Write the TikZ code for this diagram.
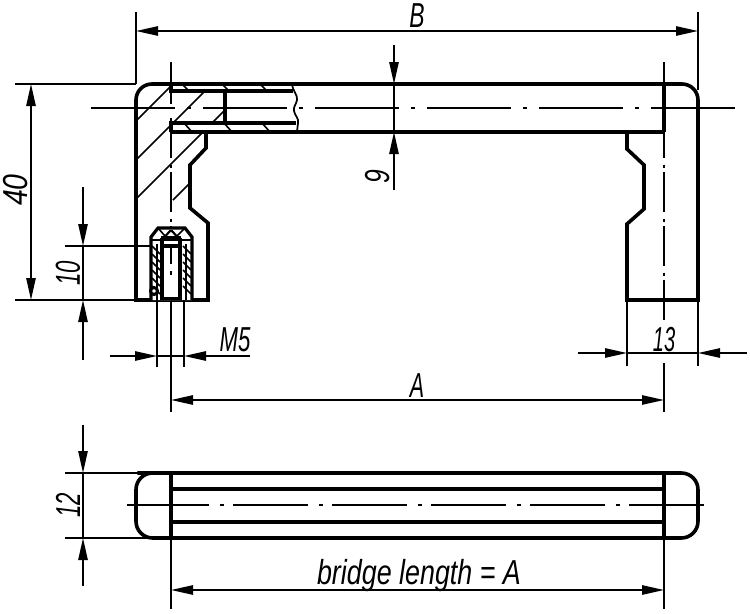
\documentclass[tikz,border=0pt]{standalone}
\usepackage{fontspec}
\setmainfont{Liberation Sans}
\usetikzlibrary{arrows.meta}
\newcommand{\dimtxt}[2]{\fontsize{26}{26}\selectfont\itshape\scalebox{#1}[1]{#2}}
\tikzset{
  contour/.style={line width=2.7pt,line join=miter,line cap=butt},
  midline/.style={line width=2.3pt},
  thinline/.style={line width=1.2pt},
  hatchline/.style={line width=1.2pt},
  dimarrow/.style={line width=1.2pt,-{Triangle[length=16.5pt,width=7pt]}},
  dimboth/.style={line width=1.2pt,{Triangle[length=16.5pt,width=7pt]}-{Triangle[length=16.5pt,width=7pt]}},
  axish/.style={line width=1.4pt,dash pattern=on 63pt off 9pt on 3pt off 9pt},
  axisb/.style={line width=1.4pt,dash pattern=on 56.25pt off 8pt on 3.5pt off 6.5pt},
  axisv/.style={line width=1.2pt,dash pattern=on 30pt off 5pt on 2.5pt off 3pt},
  label/.style={inner sep=0pt,text=black}
}
\begin{document}
\begin{tikzpicture}[x=.75pt,y=-.75pt]
\useasboundingbox (0,0) rectangle (750,614);
\fill[white] (0,0) rectangle (750,614);

% hatching of the section
\begin{scope}
\clip (136,300) -- (136,84) -- (171,84) -- (171,91) -- (225,91) -- (225,123) -- (171,123) -- (171,132) -- (206,132) -- (206,148) -- (190,165) -- (190,208) -- (208,223) -- (208,300) -- cycle;
\foreach \k in {257,296,335,373,412,451,490}
  \draw[hatchline] (\k-200,200) -- (\k-50,50);
\end{scope}
\foreach \x in {182,222,260}{
  \draw[hatchline] (\x,84) -- (\x+7,91);
  \draw[hatchline] (\x+2,123) -- (\x+10,132);
}

% axes
\draw[axish] (91,108) -- (735,108);
\draw[line width=1.4pt] (95,108) -- (118,108);
\draw[axisv] (171,118) -- (171,266);
\draw[thinline] (171,62) -- (171,104);
\draw[thinline] (171,280) -- (171,412);
\draw[thinline] (664,62) -- (664,112);
\draw[axisv] (664,118) -- (664,320);
\draw[thinline] (664,363) -- (664,412);
\draw[axisb] (134,505) -- (706,505);
\draw[line width=1.4pt] (127,505) -- (134,505);

% front view outline
\draw[contour,rounded corners=12pt] (136,300) -- (136,84) -- (698,84) -- (698,300);
\draw[contour] (134.2,300) -- (208,300) -- (208,223) -- (190,208) -- (190,165) -- (206,148) -- (206,132);
\draw[contour] (699.8,300) -- (627,300) -- (627,224) -- (644,209) -- (644,165) -- (627,149) -- (627,132);
\draw[midline] (171,132) -- (664,132);
\draw[contour] (664,84) -- (664,132);
\draw[contour] (171,84) -- (171,91) -- (293,91);
\draw[contour] (171,132) -- (171,123) -- (296,123);
\draw[contour] (225,91) -- (225,123);
\draw[line width=1.3pt] (292,84) .. controls (293,92) and (298,95) .. (297,100) .. controls (296,105) and (293,107) .. (294,111) .. controls (295,116) and (299,118) .. (298,123) -- (297,132);

% threaded insert
\fill[white] (151,300) -- (151,237) -- (158,228) -- (185,228) -- (192,237) -- (192,300) -- cycle;
\foreach \y in {246,254,...,288}{
  \draw[hatchline] (152,\y) -- (160,\y+8);
  \draw[hatchline] (183,\y) -- (191,\y+8);
}
\draw[line width=2.4pt] (151,300) -- (151,237) -- (158,228) -- (185,228) -- (192,237) -- (192,300);
\draw[thinline] (151,240) -- (192,240);
\draw[line width=1.6pt] (161,241) -- (170,231) -- (172,231) -- (181,241);
\draw[thinline] (158,228) -- (165,236);
\draw[thinline] (185,228) -- (177,236);
\draw[midline] (161,238) -- (181,238);
\draw[midline] (161,246) -- (181,246);
\draw[thinline] (157,244) -- (157,300);
\draw[thinline] (186,244) -- (186,300);
\draw[line width=3pt] (162,238) -- (162,300);
\draw[line width=3pt] (180,238) -- (180,300);
\fill[white] (154,290) circle (3.5);
\draw[midline] (154,291) circle (3.5);
\draw[contour] (161,298.5) -- (181,298.5);
\draw[thinline] (171,247) -- (171,264);
\fill (170,271) rectangle (172,275);

% top view
\draw[contour,rounded corners=12.5pt] (154,473) -- (136,473) -- (136,538) -- (698,538) -- (698,473) -- cycle;
\draw[contour] (171,473) -- (171,538);
\draw[contour] (664,473) -- (664,538);
\draw[midline] (171,489) -- (664,489);
\draw[contour] (171,522) -- (664,522);

% extension lines
\draw[thinline] (136,12) -- (136,84);
\draw[thinline] (698,12) -- (698,90);
\draw[thinline] (15,84) -- (136,84);
\draw[thinline] (15,300) -- (136,300);
\draw[thinline] (65,246) -- (152,246);
\draw[thinline] (157,300) -- (157,367);
\draw[thinline] (184,300) -- (184,367);
\draw[thinline] (627,300) -- (627,366);
\draw[thinline] (698,300) -- (698,366);
\draw[thinline] (65,473) -- (150,473);
\draw[thinline] (65,538) -- (150,538);
\draw[thinline] (171,538) -- (171,609);
\draw[thinline] (664,538) -- (664,609);

% dimension lines
\draw[dimboth] (136,31) -- (698,31);
\draw[dimboth] (31,84) -- (31,300);
\draw[dimarrow] (83,187) -- (83,246);
\draw[dimarrow] (83,360) -- (83,300);
\draw[thinline] (83,246) -- (83,300);
\draw[dimarrow] (394,45) -- (394,84);
\draw[dimarrow] (394,190) -- (394,132);
\draw[thinline] (394,84) -- (394,132);
\draw[dimarrow] (110,356) -- (157,356);
\draw[dimarrow] (250,356) -- (184,356);
\draw[thinline] (157,356) -- (184,356);
\draw[dimarrow] (578,353) -- (627,353);
\draw[dimarrow] (747,353) -- (698,353);
\draw[thinline] (627,353) -- (698,353);
\draw[dimboth] (171,400) -- (664,400);
\draw[dimarrow] (83,425) -- (83,473);
\draw[dimarrow] (83,586) -- (83,538);
\draw[thinline] (83,473) -- (83,538);
\draw[dimboth] (171,590) -- (664,590);

% labels
\node[label] (lB) at (417,16) {\dimtxt{.66}{B}};
\node[label,rotate=90] (l40) at (16,190) {\dimtxt{.82}{40}};
\node[label,rotate=90] (l10) at (68,273) {\dimtxt{.64}{10}};
\node[label,rotate=90] (l9) at (378,177) {\dimtxt{.71}{9}};
\node[label] (lM5) at (235,340) {\dimtxt{.64}{M5}};
\node[label] (l13) at (664,340) {\dimtxt{.58}{13}};
\node[label] (lA) at (417,386) {\dimtxt{.62}{A}};
\node[label,rotate=90] (l12) at (68,505) {\dimtxt{.64}{12}};
\node[label,anchor=base] (lbridge) at (419,584) {\dimtxt{.775}{bridge length = A}};
\end{tikzpicture}
\end{document}
